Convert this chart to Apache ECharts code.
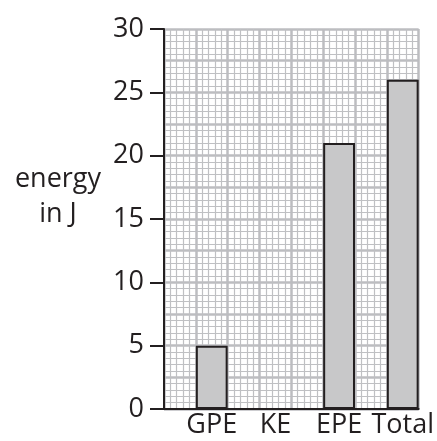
<!DOCTYPE html>
<html><head><meta charset="utf-8">
<script src="https://cdn.jsdelivr.net/npm/echarts@6/dist/echarts.min.js"></script>
<style>html,body{margin:0;padding:0;background:#fff}#c{width:437px;height:441px}</style>
</head><body><div id="c"></div>
<script>
var categories = ['GPE', 'KE', 'EPE', 'Total'];
var values = [5, 0, 21, 26];
var yTicks = [0, 5, 10, 15, 20, 25, 30];
var yName = ['energy', 'in J'];

// each category sits in the second of two grid columns
var slots = [], slotVals = [];
categories.forEach(function (c, i) { slots.push('', c); slotVals.push(null, values[i] === 0 ? null : values[i]); });

var FONT = '"Open Sans", sans-serif';
var FS = 27;
var INK = '#231f20';
var MAJ = { color: '#bcbdc0', width: 2.5 };
var MIN = { color: '#bfc0c3', width: 1.2 };
var chart = echarts.init(document.getElementById('c'));
chart.setOption({
  animation: false,
  grid: { left: 164, right: 18, top: 29, bottom: 32 },
  xAxis: [
    { type: 'category', data: slots, boundaryGap: true,
      axisLine: { show: true, lineStyle: { color: INK, width: 2 } },
      axisTick: { show: false }, splitLine: { show: false },
      axisLabel: { interval: 0, color: INK, fontSize: FS, fontFamily: FONT, margin: 3 }, z: 5 },
    { type: 'value', min: 0, max: 8, interval: 1, show: true, position: 'bottom',
      axisLine: { show: false }, axisTick: { show: false }, axisLabel: { show: false },
      splitLine: { show: true, lineStyle: MAJ },
      minorTick: { show: false, splitNumber: 5 },
      minorSplitLine: { show: true, lineStyle: MIN } }
  ],
  yAxis: [
    { type: 'value', min: 0, max: 30, interval: 5,
      axisLine: { show: true, lineStyle: { color: INK, width: 2 } },
      axisTick: { show: true, length: 14, lineStyle: { color: INK, width: 2 } },
      axisLabel: { color: INK, fontSize: FS, fontFamily: FONT, margin: 20,
        formatter: function (v) { return yTicks.indexOf(v) >= 0 ? String(v) : ''; } },
      splitLine: { show: false }, z: 5 },
    { type: 'value', min: 0, max: 30, interval: 2.5, position: 'left',
      axisLine: { show: false }, axisTick: { show: false }, axisLabel: { show: false },
      splitLine: { show: true, lineStyle: MAJ },
      minorTick: { show: false, splitNumber: 5 },
      minorSplitLine: { show: true, lineStyle: MIN } }
  ],
  series: [{
    type: 'bar', xAxisIndex: 0, yAxisIndex: 0, data: slotVals,
    barWidth: '100%', barCategoryGap: 0,
    itemStyle: { color: '#c8c8c9', borderColor: INK, borderWidth: 2 }, z: 3
  }],
  graphic: [
    { type: 'text', x: 58, y: 193, style: { text: yName[0], fill: INK, font: FS + 'px ' + FONT, align: 'center', verticalAlign: 'bottom' } },
    { type: 'text', x: 58, y: 228, style: { text: yName[1], fill: INK, font: FS + 'px ' + FONT, align: 'center', verticalAlign: 'bottom' } }
  ]
});
</script></body></html>
